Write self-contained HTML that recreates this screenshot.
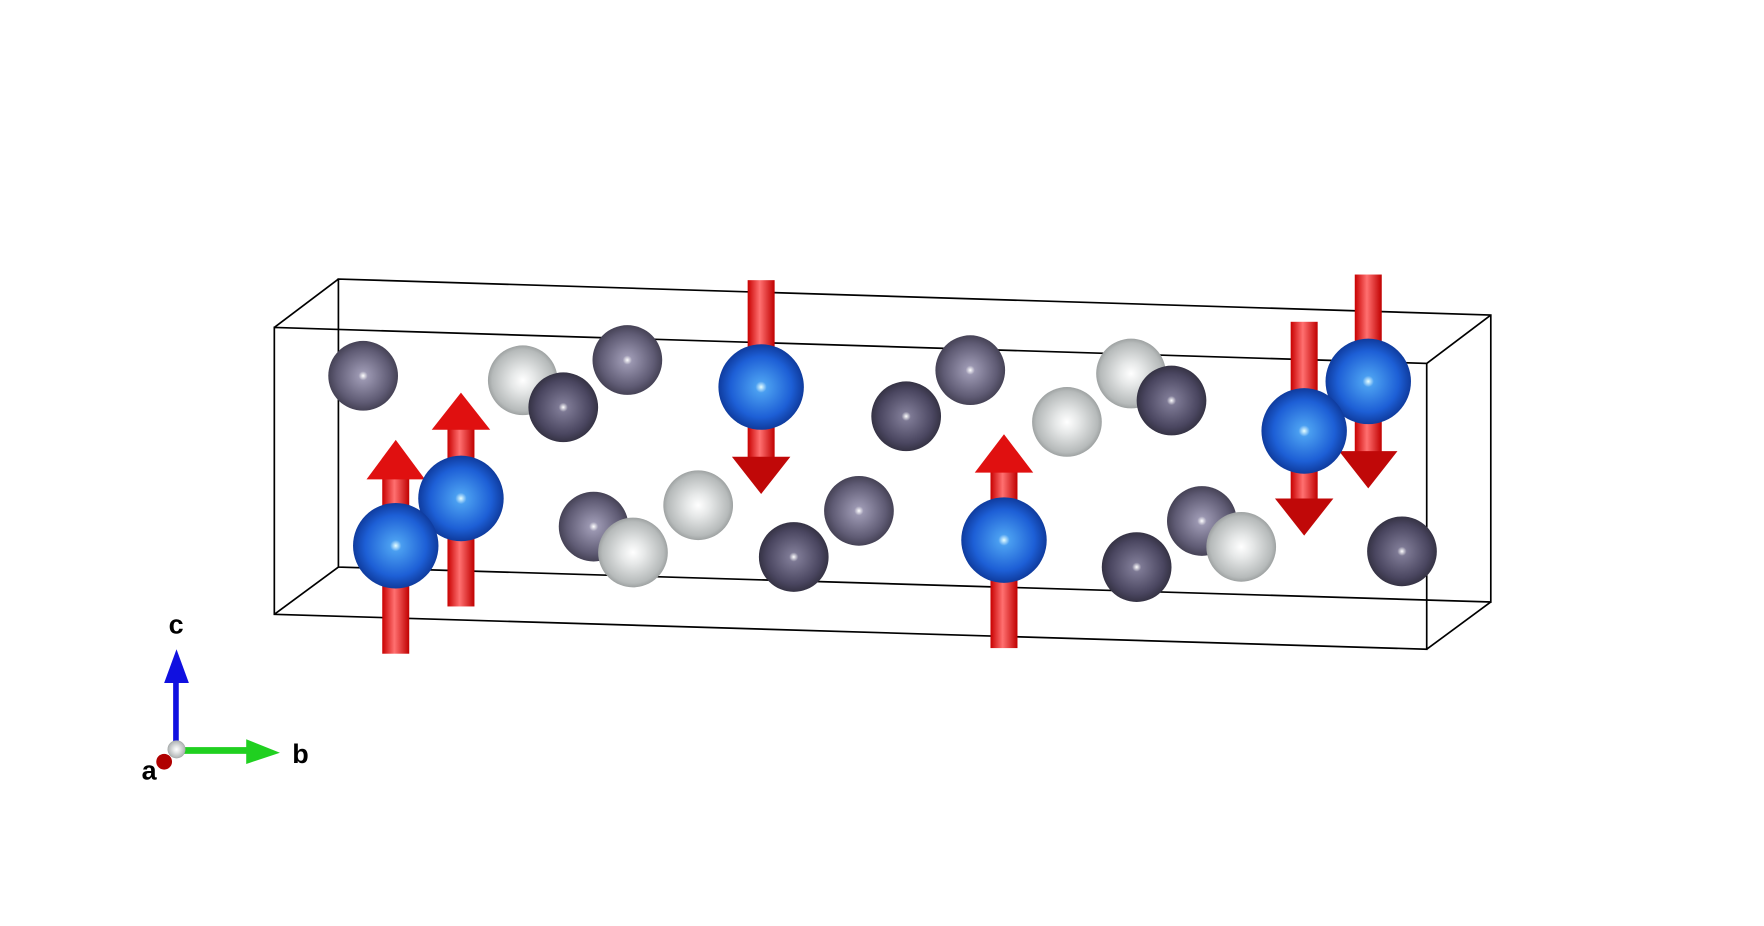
<!DOCTYPE html>
<html><head><style>html,body{margin:0;padding:0;background:#fff;width:1764px;height:926px;overflow:hidden}</style></head>
<body>
<svg width="1764" height="926" viewBox="-1 -1 1569 823" preserveAspectRatio="none" xmlns="http://www.w3.org/2000/svg">
<defs>
<radialGradient id="gd" cx="0.5" cy="0.5" r="0.55" fx="0.5" fy="0.5"><stop offset="0" stop-color="#fff"/><stop offset="0.12" stop-color="#9a96b0"/><stop offset="0.7" stop-color="#5f5b74"/><stop offset="1" stop-color="#3a3748"/></radialGradient>
<radialGradient id="gk" cx="0.5" cy="0.5" r="0.55"><stop offset="0" stop-color="#fff"/><stop offset="0.12" stop-color="#7d7994"/><stop offset="0.7" stop-color="#4a4660"/><stop offset="1" stop-color="#2c2a38"/></radialGradient>
<radialGradient id="gw" cx="0.5" cy="0.5" r="0.55"><stop offset="0" stop-color="#fff"/><stop offset="0.3" stop-color="#e6e8e8"/><stop offset="0.8" stop-color="#b6baba"/><stop offset="1" stop-color="#8a8e8e"/></radialGradient>
<radialGradient id="gb" cx="0.5" cy="0.5" r="0.55"><stop offset="0" stop-color="#e8ffff"/><stop offset="0.12" stop-color="#4a9ef0"/><stop offset="0.65" stop-color="#1d5fd6"/><stop offset="1" stop-color="#0a2f8a"/></radialGradient>
<linearGradient id="gr" x1="0" x2="1" y1="0" y2="0"><stop offset="0" stop-color="#c80000"/><stop offset="0.45" stop-color="#ff7070"/><stop offset="1" stop-color="#c00000"/></linearGradient>
</defs>
<g stroke="#000" stroke-width="1.5" fill="none">
<polygon points="243,290 1268,322 1268,576 243,545"/>
<polygon points="300,247 1325,279 1325,534 300,503"/>
<line x1="243" y1="290" x2="300" y2="247"/><line x1="1268" y1="322" x2="1325" y2="279"/>
<line x1="1268" y1="576" x2="1325" y2="534"/><line x1="243" y1="545" x2="300" y2="503"/>
</g>
<g>
<rect x="339" y="424" width="24" height="156" fill="url(#gr)"/><polygon points="325,425 377,425 351,390" fill="#e01010"/>
<rect x="397" y="380" width="24" height="158" fill="url(#gr)"/><polygon points="383,381 435,381 409,348" fill="#e01010"/>
<rect x="664" y="248" width="24" height="158" fill="url(#gr)"/><polygon points="650,405 702,405 676,438" fill="#c00808"/>
<rect x="880" y="418" width="24" height="157" fill="url(#gr)"/><polygon points="866,419 918,419 892,385" fill="#e01010"/>
<rect x="1147" y="285" width="24" height="158" fill="url(#gr)"/><polygon points="1133,442 1185,442 1159,475" fill="#c00808"/>
<rect x="1204" y="243" width="24" height="158" fill="url(#gr)"/><polygon points="1190,400 1242,400 1216,433" fill="#c00808"/>
</g>
<g>
<circle cx="322" cy="333" r="31" fill="url(#gd)"/>
<circle cx="557" cy="319" r="31" fill="url(#gd)"/>
<circle cx="464" cy="337" r="31" fill="url(#gw)"/>
<circle cx="500" cy="361" r="31" fill="url(#gk)"/>
<circle cx="862" cy="328" r="31" fill="url(#gd)"/>
<circle cx="805" cy="369" r="31" fill="url(#gk)"/>
<circle cx="1005" cy="331" r="31" fill="url(#gw)"/>
<circle cx="1041" cy="355" r="31" fill="url(#gk)"/>
<circle cx="948" cy="374" r="31" fill="url(#gw)"/>
<circle cx="527" cy="467" r="31" fill="url(#gd)"/>
<circle cx="620" cy="448" r="31" fill="url(#gw)"/>
<circle cx="562" cy="490" r="31" fill="url(#gw)"/>
<circle cx="763" cy="453" r="31" fill="url(#gd)"/>
<circle cx="705" cy="494" r="31" fill="url(#gk)"/>
<circle cx="1068" cy="462" r="31" fill="url(#gd)"/>
<circle cx="1103" cy="485" r="31" fill="url(#gw)"/>
<circle cx="1010" cy="503" r="31" fill="url(#gk)"/>
<circle cx="1246" cy="489" r="31" fill="url(#gk)"/>
<circle cx="676" cy="343" r="38" fill="url(#gb)"/>
<circle cx="409" cy="442" r="38" fill="url(#gb)"/>
<circle cx="351" cy="484" r="38" fill="url(#gb)"/>
<circle cx="892" cy="479" r="38" fill="url(#gb)"/>
<circle cx="1216" cy="338" r="38" fill="url(#gb)"/>
<circle cx="1159" cy="382" r="38" fill="url(#gb)"/>
</g>
<rect x="153" y="600" width="5" height="65" fill="#1010e0"/><polygon points="145,606 167,606 156,576" fill="#1010e0"/>
<rect x="158" y="663" width="66" height="6" fill="#20d020"/><polygon points="218,656 218,678 248,668" fill="#20d020"/>
<circle cx="145" cy="676" r="7" fill="#b00000"/>
<circle cx="156" cy="665" r="8" fill="url(#gw)"/>
<g font-family="Liberation Sans, sans-serif" font-weight="bold" font-size="24" fill="#000">
<text x="149" y="562">c</text><text x="259" y="677">b</text><text x="125" y="692">a</text>
</g>
</svg>
</body></html>
